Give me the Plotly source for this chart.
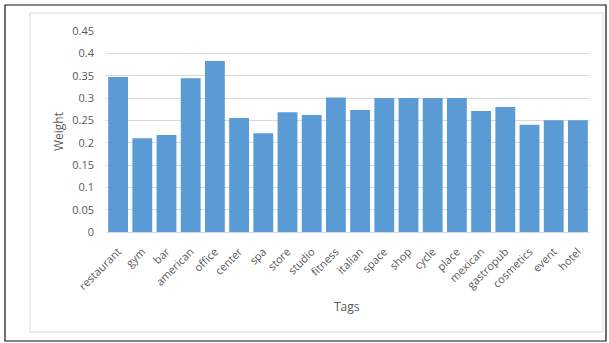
import plotly.graph_objects as go

tags = ["restaurant", "gym", "bar", "american", "office", "center", "spa", "store",
        "studio", "fitness", "italian", "space", "shop", "cycle", "place", "mexican",
        "gastropub", "cosmetics", "event", "hotel"]
weights = [0.347, 0.210, 0.217, 0.344, 0.383, 0.255, 0.221, 0.268,
           0.262, 0.301, 0.273, 0.300, 0.300, 0.300, 0.300, 0.271,
           0.280, 0.240, 0.250, 0.250]
y_ticks = [0, 0.05, 0.1, 0.15, 0.2, 0.25, 0.3, 0.35, 0.4, 0.45]
y_ticktext = ["0", "0.05", "0.1", "0.15", "0.2", "0.25", "0.3", "0.35", "0.4", "0.45"]

W, H = 609, 343
L, R, T, B = 106, 590, 31, 232


def px(x):
    return (x - L) / (R - L)


def py(y):
    return (B - y) / (B - T)


fig = go.Figure(go.Bar(x=tags, y=weights, marker=dict(color="#5B9BD5", line=dict(width=0)),
                       width=0.82))

font = "Open Sans, Liberation Sans, sans-serif"
fig.update_layout(
    width=W, height=H,
    margin=dict(l=L, r=W - R, t=T, b=H - B, autoexpand=False),
    paper_bgcolor="white", plot_bgcolor="white",
    showlegend=False,
    font=dict(family=font, size=11, color="#595959"),
    xaxis=dict(tickangle=-45, showgrid=False, showline=True, linecolor="#d9d9d9",
               ticks="", ticklabelstandoff=8, tickfont=dict(size=11, color="#595959"),
               automargin=False, range=[-0.5, 19.5]),
    yaxis=dict(range=[0, 0.45], tickvals=y_ticks, ticktext=y_ticktext,
               showgrid=True, gridcolor="#d9d9d9", gridwidth=1, zeroline=False,
               ticks="", ticklabelstandoff=11, tickfont=dict(size=11, color="#595959"),
               automargin=False),
    shapes=[
        dict(type="rect", xref="paper", yref="paper", x0=px(5), x1=px(606), y0=py(341), y1=py(5),
             line=dict(color="#111111", width=1.2), layer="below"),
        dict(type="rect", xref="paper", yref="paper", x0=px(30), x1=px(603), y0=py(332), y1=py(13),
             line=dict(color="#d9d9d9", width=1), layer="below"),
    ],
    annotations=[
        dict(text="Tags", xref="paper", yref="paper", x=px(347), y=py(306), showarrow=False,
             xanchor="center", yanchor="middle", font=dict(size=12, color="#595959")),
        dict(text="Weight", xref="paper", yref="paper", x=px(58), y=py(132), showarrow=False,
             textangle=-90, xanchor="center", yanchor="middle", font=dict(size=12, color="#595959")),
    ],
)

fig.write_html("out.html")
